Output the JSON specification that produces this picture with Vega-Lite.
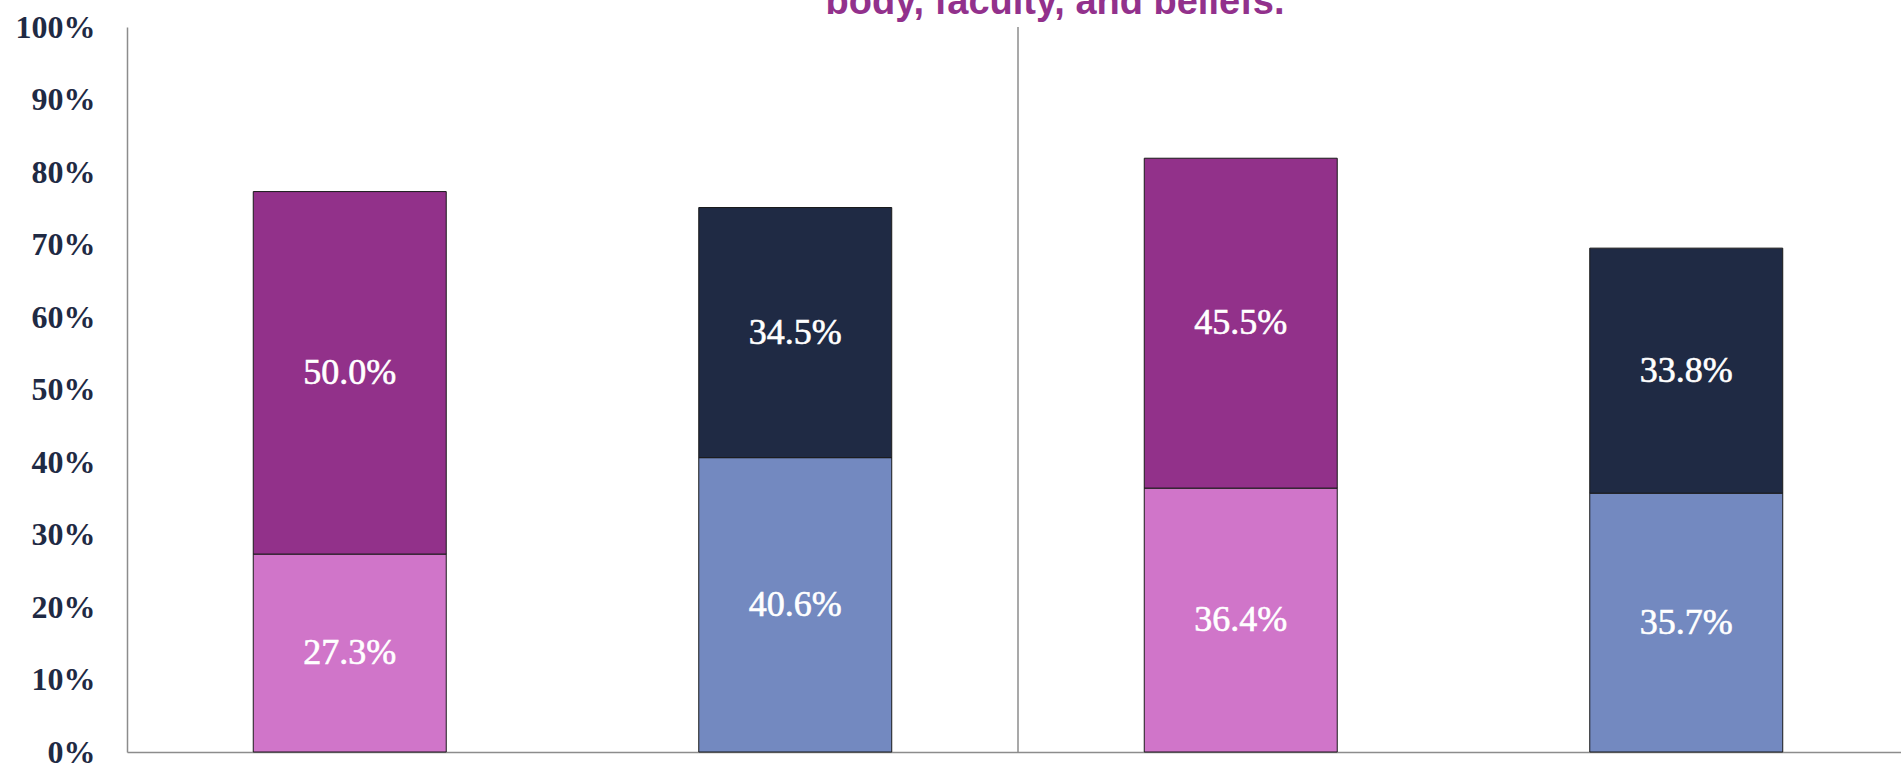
{
  "$schema": "https://vega.github.io/schema/vega-lite/v6.json",
  "autosize": {"type": "none"},
  "width": 1774,
  "height": 725,
  "padding": {"left": 127, "top": 27, "right": 0, "bottom": 12},
  "background": "white",
  "config": {"view": {"stroke": null}},
  "title": {
    "text": "body, faculty, and beliefs.",
    "anchor": "middle",
    "frame": "group",
    "font": "Liberation Sans",
    "fontWeight": "bold",
    "fontSize": 38,
    "color": "#92318C",
    "baseline": "alphabetic",
    "offset": 0,
    "dx": 41,
    "dy": 41
  },
  "data": {
    "values": [
      {"bar": "Bar 1", "segment": "Bar 1 lower", "order": 1, "value": 0.273},
      {"bar": "Bar 1", "segment": "Bar 1 upper", "order": 2, "value": 0.500},
      {"bar": "Bar 2", "segment": "Bar 2 lower", "order": 1, "value": 0.406},
      {"bar": "Bar 2", "segment": "Bar 2 upper", "order": 2, "value": 0.345},
      {"bar": "Bar 3", "segment": "Bar 3 lower", "order": 1, "value": 0.364},
      {"bar": "Bar 3", "segment": "Bar 3 upper", "order": 2, "value": 0.455},
      {"bar": "Bar 4", "segment": "Bar 4 lower", "order": 1, "value": 0.357},
      {"bar": "Bar 4", "segment": "Bar 4 upper", "order": 2, "value": 0.338}
    ]
  },
  "transform": [
    {"stack": "value", "groupby": ["bar"], "sort": [{"field": "order"}], "as": ["v0", "v1"]},
    {"calculate": "(datum.v0 + datum.v1) / 2", "as": "mid"}
  ],
  "encoding": {
    "x": {
      "field": "bar",
      "type": "nominal",
      "sort": ["Bar 1", "Bar 2", "Bar 3", "Bar 4"],
      "scale": {"range": [0, 1782], "paddingInner": 0, "paddingOuter": 0},
      "axis": {"title": null, "labels": false, "ticks": false, "domainColor": "#8C8C8C", "domainWidth": 1.5}
    }
  },
  "layer": [
    {
      "mark": {"type": "bar", "width": {"band": 0.4332}, "stroke": "#1a1a1a", "strokeWidth": 1},
      "encoding": {
        "y": {
          "field": "v0",
          "type": "quantitative",
          "scale": {"domain": [0, 1], "nice": false},
          "axis": {
            "title": null,
            "format": ".0%",
            "values": [0, 0.1, 0.2, 0.3, 0.4, 0.5, 0.6, 0.7, 0.8, 0.9, 1],
            "grid": false,
            "ticks": false,
            "labelPadding": 32,
            "labelFont": "Liberation Serif",
            "labelFontWeight": "bold",
            "labelFontSize": 32,
            "labelColor": "#1F2A44",
            "domainColor": "#8C8C8C",
            "domainWidth": 1.5
          }
        },
        "y2": {"field": "v1"},
        "color": {
          "field": "segment",
          "type": "nominal",
          "legend": null,
          "scale": {
            "domain": ["Bar 1 lower", "Bar 1 upper", "Bar 2 lower", "Bar 2 upper", "Bar 3 lower", "Bar 3 upper", "Bar 4 lower", "Bar 4 upper"],
            "range": ["#D075C9", "#92318A", "#7389C0", "#1F2A44", "#D075C9", "#92318A", "#7389C0", "#1F2A44"]
          }
        }
      }
    },
    {
      "mark": {"type": "text", "font": "Liberation Serif", "fontWeight": "normal", "fontSize": 36, "color": "white", "stroke": "white", "strokeWidth": 0.6, "baseline": "middle"},
      "encoding": {
        "y": {"field": "mid", "type": "quantitative"},
        "text": {"field": "value", "type": "quantitative", "format": ".1%"}
      }
    },
    {
      "data": {"values": [{"bar": "Bar 3"}]},
      "mark": {"type": "rule", "color": "#8C8C8C", "strokeWidth": 1.5},
      "encoding": {
        "x": {"field": "bar", "type": "nominal", "bandPosition": 0},
        "y": {"datum": 0},
        "y2": {"datum": 1}
      }
    }
  ]
}
